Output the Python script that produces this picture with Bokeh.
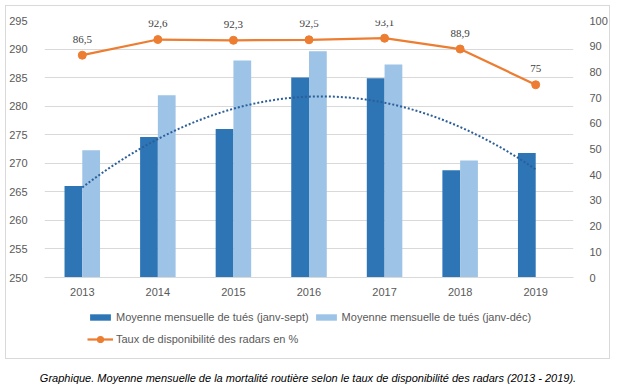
import numpy as np
from bokeh.plotting import figure
from bokeh.layouts import column
from bokeh.models import (FactorRange, Range1d, LinearAxis, SingleIntervalTicker, ColumnDataSource,
                          LabelSet, Legend, LegendItem)
from bokeh.transform import dodge
from bokeh.embed import file_html
from bokeh.resources import INLINE

years = ["2013", "2014", "2015", "2016", "2017", "2018", "2019"]
tues_janv_sept = [266.0, 274.6, 276.0, 285.0, 284.9, 268.8, 271.8]
tues_janv_dec = [272.3, 281.9, 288.0, 289.6, 287.3, 270.5, float("nan")]
taux_radars = [86.5, 92.6, 92.3, 92.5, 93.1, 88.9, 75.0]
taux_labels = [f"{v:g}".replace(".", ",") for v in taux_radars]

name_sept = "Moyenne mensuelle de tués (janv-sept)"
name_dec = "Moyenne mensuelle de tués (janv-déc)"
name_taux = "Taux de disponibilité des radars en %"
caption = ("Graphique. Moyenne mensuelle de la mortalité routière selon le taux de "
           "disponibilité des radars (2013 - 2019).")

FONT = "Liberation Sans"
GREY = "#595959"
DARK = "#2E75B6"
LIGHT = "#9DC3E6"
ORANGE = "#ED7D31"
TREND = "#2C5F99"
BORDER = "1px solid #D9D9D9"

src = ColumnDataSource(dict(year=years, sept=tues_janv_sept, dec=tues_janv_dec,
                            taux=taux_radars, lab=taux_labels))

# ---------------- main chart ----------------
p = figure(x_range=FactorRange(factors=years, range_padding=0, factor_padding=0),
           y_range=Range1d(250, 295), width=605, height=295,
           output_backend="svg", toolbar_location=None,
           min_border_left=38, min_border_right=38, min_border_top=14, min_border_bottom=24)
p.styles = {"border-top": BORDER, "border-left": BORDER, "border-right": BORDER}
p.extra_y_ranges = {"pct": Range1d(0, 100)}
p.outline_line_color = None
p.xgrid.grid_line_color = None
p.ygrid.grid_line_color = "#D9D9D9"
p.ygrid.ticker = SingleIntervalTicker(interval=5, num_minor_ticks=0)

for ax in [p.xaxis[0], p.yaxis[0]]:
    ax.major_tick_line_color = None
    ax.minor_tick_line_color = None
    ax.major_label_text_font = FONT
    ax.major_label_text_font_size = "11px"
    ax.major_label_text_color = GREY
p.xaxis.axis_line_color = "#D9D9D9"
p.xaxis.major_label_standoff = 4
p.yaxis.axis_line_color = None
p.yaxis.ticker = SingleIntervalTicker(interval=5, num_minor_ticks=0)
p.yaxis.major_label_standoff = 11

right = LinearAxis(y_range_name="pct", ticker=SingleIntervalTicker(interval=10, num_minor_ticks=0),
                   axis_line_color=None, major_tick_line_color=None, minor_tick_line_color=None,
                   major_label_text_font=FONT, major_label_text_font_size="11px",
                   major_label_text_color=GREY, major_label_standoff=10)
p.add_layout(right, "right")

bottom = p.y_range.start
p.vbar(x=dodge("year", -0.1175, range=p.x_range), top="sept", bottom=bottom, width=0.235,
       source=src, fill_color=DARK, line_color=None)
p.vbar(x=dodge("year", 0.1175, range=p.x_range), top="dec", bottom=bottom, width=0.235,
       source=src, fill_color=LIGHT, line_color=None)

# polynomial (order 2) trendline of the janv-sept series
idx = np.arange(len(years))
coef = np.polyfit(idx, tues_janv_sept, 2)
tx = np.linspace(0, len(years) - 1, 121)
p.line(x=tx + 0.5, y=np.polyval(coef, tx), line_color=TREND, line_width=2, line_dash="2 2")

p.line(x="year", y="taux", source=src, y_range_name="pct", line_color=ORANGE, line_width=2.25)
p.scatter(x="year", y="taux", source=src, y_range_name="pct", size=8,
          fill_color=ORANGE, line_color=ORANGE)
p.add_layout(LabelSet(x="year", y="taux", text="lab", source=src, y_range_name="pct", y_offset=16,
                      text_align="center", text_baseline="middle", text_font=FONT,
                      text_font_size="11px", text_color="#404040"))

# ---------------- legend strip (inside the same bordered box) ----------------
leg = figure(width=605, height=59, x_range=Range1d(0, 1), y_range=Range1d(0, 1),
             x_axis_type=None, y_axis_type=None, output_backend="svg", toolbar_location=None,
             min_border_left=0, min_border_right=0, min_border_top=0, min_border_bottom=0)
leg.styles = {"border-bottom": BORDER, "border-left": BORDER, "border-right": BORDER}
leg.outline_line_color = None
leg.grid.grid_line_color = None
# legend proxies: zero-size / off-range, nothing visible in the strip itself
k_sept = leg.vbar(x=[0], top=[0], bottom=0, width=0, fill_color=DARK, line_color=None)
k_dec = leg.vbar(x=[0], top=[0], bottom=0, width=0, fill_color=LIGHT, line_color=None)
k_line = leg.line(x=[0], y=[0], line_color=ORANGE, line_width=2.25)
k_pts = leg.scatter(x=[-1], y=[-1], size=3, line_width=4, fill_color=ORANGE, line_color=ORANGE)
leg.add_layout(Legend(items=[LegendItem(label=name_sept, renderers=[k_sept]),
                             LegendItem(label=name_dec, renderers=[k_dec]),
                             LegendItem(label=name_taux, renderers=[k_line, k_pts])],
                      orientation="horizontal", ncols=2, location=(43, 11),
                      margin=0, padding=0, spacing=4, glyph_width=26, glyph_height=8,
                      label_height=18, label_standoff=3,
                      label_text_font=FONT, label_text_font_size="11px", label_text_color=GREY,
                      border_line_color=None, background_fill_alpha=0))

# ---------------- caption ----------------
cap = figure(width=605, height=22, x_range=Range1d(0, 1), y_range=Range1d(0, 1),
             x_axis_type=None, y_axis_type=None,
             output_backend="svg", toolbar_location=None, margin=(9, 0, 0, 0),
             min_border_left=0, min_border_right=0, min_border_top=0, min_border_bottom=0)
cap.outline_line_color = None
cap.grid.grid_line_color = None
cap.title.text = caption
cap.title.align = "center"
cap.title.text_font = FONT
cap.title.text_font_style = "italic"
cap.title.text_font_size = "11px"
cap.title.text_color = "#000000"
cap.title.standoff = 3

layout = column(p, leg, cap, spacing=0, margin=(5, 0, 0, 5))
open("out.html", "w").write(file_html(layout, INLINE))
